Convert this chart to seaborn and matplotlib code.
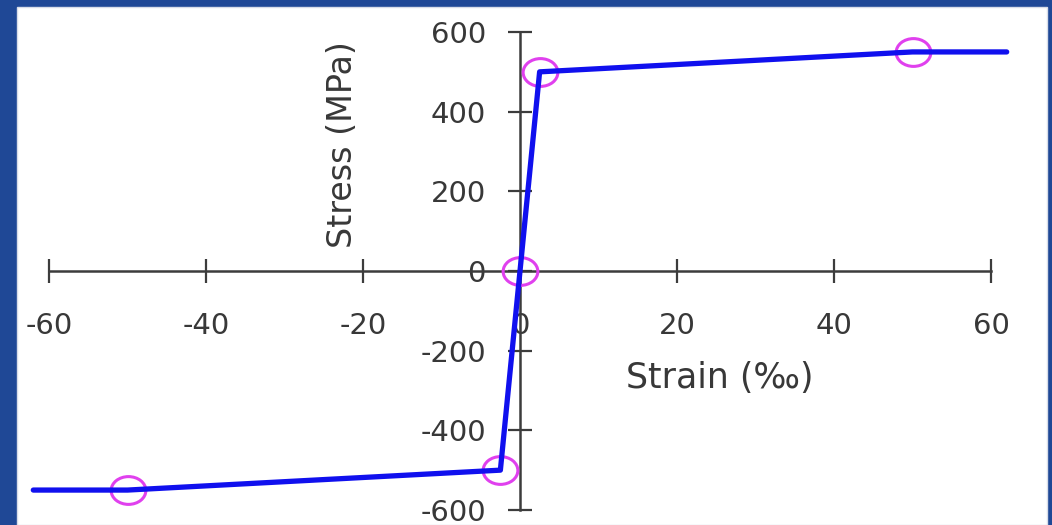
import matplotlib
matplotlib.use("Agg")
import matplotlib.pyplot as plt
from matplotlib.patches import Rectangle
from matplotlib.path import Path
from matplotlib.transforms import Affine2D
from matplotlib.ticker import MultipleLocator
import seaborn as sns
import numpy as np

# Bilinear steel model: elastic up to yield (±2.5 ‰, ±500 MPa),
# hardening to ±550 MPa at ±50 ‰, then flat to the plotted limit.
strain = [-62, -50, -2.5, 0, 2.5, 50, 62]
stress = [-550, -550, -500, 0, 500, 550, 550]

# Key points marked with open circles
key_strain = [-50, -2.5, 0, 2.5, 50]
key_stress = [-550, -500, 0, 500, 550]

x_ticks = [-60, -40, -20, 0, 20, 40, 60]
y_ticks = [-600, -400, -200, 0, 200, 400, 600]

sns.set_style("white")
plt.rcParams["font.family"] = ["DejaVu Sans"]
plt.rcParams["axes.unicode_minus"] = False

W, H = 1052, 525
fig = plt.figure(figsize=(W / 100, H / 100), dpi=100)
fig.patch.set_facecolor("#1f4896")

# White panel behind the chart
fig.patches.append(Rectangle((17 / W, 0), 1030 / W, 518 / H,
                             transform=fig.transFigure, facecolor="white",
                             edgecolor="#d8dde8", linewidth=1.0, zorder=-1))

ax = fig.add_axes([0, 0, 1, 1])
ax.set_facecolor("none")

# Data-to-pixel mapping: origin at (520, 271) px, 7.85 px per ‰, 0.3983 px per MPa
ox, oy, sx, sy = 520, 271, 7.85, 0.3983
ax.set_xlim(-ox / sx, (W - ox) / sx)
ax.set_ylim(-(H - oy) / sy, oy / sy)

ellipse = Path.unit_circle().transformed(Affine2D().scale(1.25, 1.0))

sns.lineplot(x=key_strain, y=key_stress, ax=ax, linestyle="none",
             marker=ellipse, markersize=25, markerfacecolor="none",
             markeredgecolor="#e040ee", markeredgewidth=2.2, zorder=3)
sns.lineplot(x=strain, y=stress, ax=ax, color="#1010ee", linewidth=3.8,
             sort=False, estimator=None, zorder=4)

# Axes crossing at the origin
for side in ("top", "right"):
    ax.spines[side].set_visible(False)
for side in ("left", "bottom"):
    ax.spines[side].set_position("zero")
    ax.spines[side].set_color("#3c3c3c")
    ax.spines[side].set_linewidth(1.8)
ax.spines["bottom"].set_bounds(-60, 60)
ax.spines["left"].set_bounds(-600, 600)

ax.set_xticks(x_ticks)
ax.set_yticks(y_ticks)
ax.yaxis.set_minor_locator(MultipleLocator(100))
ax.tick_params(axis="both", which="major", direction="inout", length=17,
               width=1.6, color="#3c3c3c", labelsize=21, labelcolor="#383838")
ax.tick_params(axis="y", which="minor", direction="inout", length=12,
               width=1.6, color="#3c3c3c")
ax.tick_params(axis="x", which="major", pad=21)
ax.tick_params(axis="y", which="major", pad=16)
ax.tick_params(left=True, bottom=True)

ax.set_xlabel("Strain (‰)", fontsize=25, color="#383838")
ax.set_ylabel("Stress (MPa)", fontsize=24, color="#383838")
ax.xaxis.set_label_coords(720 / W, 1 - 378 / H)
ax.xaxis.label.set_verticalalignment("center")
ax.yaxis.set_label_coords(342 / W, 1 - 145 / H)
ax.yaxis.label.set_verticalalignment("center")

fig.savefig("out.png", dpi=100, facecolor=fig.get_facecolor())
